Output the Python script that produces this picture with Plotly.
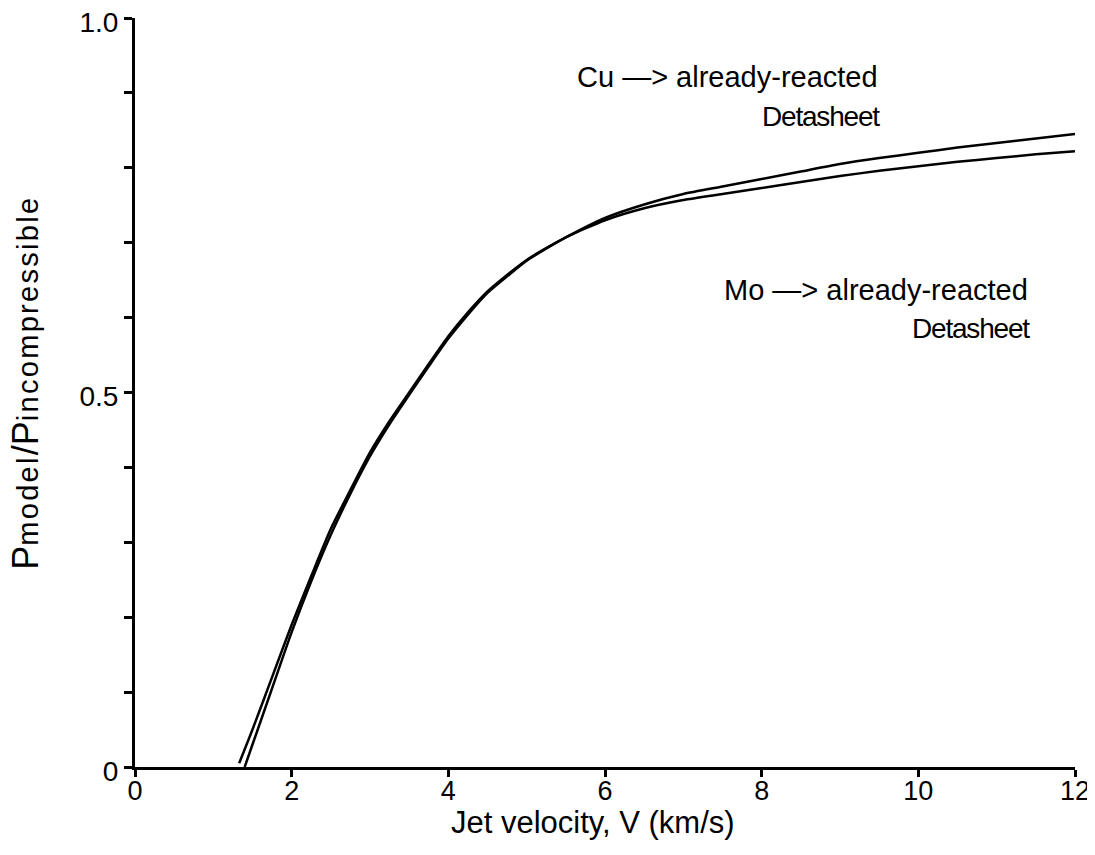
import plotly.graph_objects as go

# Jet velocity (km/s) and pressure ratio for each curve
cu_v = [1.33, 1.5, 1.75, 2.0, 2.25, 2.5, 2.75, 3.0, 3.25, 3.5, 3.75, 4.0, 4.25, 4.5, 4.75,
        5.0, 5.5, 6.0, 6.5, 7.0, 7.5, 8.0, 8.5, 9.0, 9.5, 10.0, 10.5, 11.0, 11.5, 12.0]
cu_p = [0.005, 0.05, 0.12, 0.19, 0.255, 0.318, 0.37, 0.42, 0.462, 0.5, 0.538, 0.575, 0.607,
        0.635, 0.657, 0.677, 0.707, 0.733, 0.751, 0.765, 0.775, 0.785, 0.795, 0.805, 0.813,
        0.82, 0.827, 0.833, 0.839, 0.845]
mo_v = [1.40, 1.5, 1.75, 2.0, 2.25, 2.5, 2.75, 3.0, 3.25, 3.5, 3.75, 4.0, 4.25, 4.5, 4.75,
        5.0, 5.5, 6.0, 6.5, 7.0, 7.5, 8.0, 8.5, 9.0, 9.5, 10.0, 10.5, 11.0, 11.5, 12.0]
mo_p = [0.0, 0.03, 0.105, 0.18, 0.248, 0.31, 0.365, 0.415, 0.458, 0.497, 0.535, 0.572, 0.604,
        0.633, 0.655, 0.676, 0.707, 0.73, 0.746, 0.757, 0.765, 0.773, 0.781, 0.789, 0.796,
        0.802, 0.808, 0.813, 0.818, 0.822]

x_ticks = [0, 2, 4, 6, 8, 10, 12]
y_ticks = [0, 0.1, 0.2, 0.3, 0.4, 0.5, 0.6, 0.7, 0.8, 0.9, 1.0]
y_labels = ["0", "", "", "", "", "0.5", "", "", "", "", "1.0"]

FONT = "Liberation Sans, Arial, Helvetica, sans-serif"

fig = go.Figure()
fig.add_trace(go.Scatter(x=cu_v, y=cu_p, mode="lines", name="Cu",
                         line=dict(color="black", width=2.5, shape="spline", smoothing=0.6)))
fig.add_trace(go.Scatter(x=mo_v, y=mo_p, mode="lines", name="Mo",
                         line=dict(color="black", width=2.5, shape="spline", smoothing=0.6)))

ann_font = dict(family=FONT, size=29, color="black")
det_font = dict(family=FONT, size=28, color="black")
DET = "<span style='letter-spacing:-1.2px'>Detasheet</span>"
fig.add_annotation(x=9.51, y=0.921, text="Cu —> already-reacted", showarrow=False,
                   xanchor="right", yanchor="middle", font=ann_font)
fig.add_annotation(x=9.53, y=0.868, text=DET, showarrow=False,
                   xanchor="right", yanchor="middle", font=det_font)
fig.add_annotation(x=11.43, y=0.637, text="Mo —> already-reacted", showarrow=False,
                   xanchor="right", yanchor="middle", font=ann_font)
fig.add_annotation(x=11.45, y=0.586, text=DET, showarrow=False,
                   xanchor="right", yanchor="middle", font=det_font)

# axis titles
fig.add_annotation(xref="paper", yref="paper", x=0.487, y=0, yshift=-55,
                   text="Jet velocity, V (km/s)", showarrow=False,
                   xanchor="center", yanchor="middle",
                   font=dict(family=FONT, size=31, color="black"))
SUB = "font-size:29px;letter-spacing:2.3px"
fig.add_annotation(xref="paper", yref="paper", x=0, xshift=-109, y=0.513,
                   text=f"P<span style='{SUB}'>model</span>/P<span style='{SUB}'>incompressible</span>",
                   textangle=-90, showarrow=False, xanchor="center", yanchor="middle",
                   font=dict(family=FONT, size=36, color="black"))

fig.update_layout(
    template="none",
    width=1087, height=839,
    margin=dict(l=127, r=20, t=10, b=80, autoexpand=False),
    paper_bgcolor="white", plot_bgcolor="white",
    showlegend=False,
    font=dict(family=FONT, color="black"),
    xaxis=dict(range=[0, 12], tickmode="array", tickvals=x_ticks,
               ticktext=[str(v) for v in x_ticks],
               ticks="outside", ticklen=7, tickwidth=2.5, tickcolor="black",
               showline=True, linecolor="black", linewidth=3, showgrid=False, zeroline=False,
               automargin=False, ticklabeloverflow="allow", ticklabelstandoff=-9,
               tickfont=dict(family=FONT, size=27)),
    yaxis=dict(range=[0, 1.0], tickmode="array", tickvals=y_ticks, ticktext=y_labels,
               ticks="outside", ticklen=8, tickwidth=2.5, tickcolor="black",
               showline=True, linecolor="black", linewidth=3, showgrid=False, zeroline=False,
               automargin=False, ticklabeloverflow="allow", ticklabelshift=4,
               tickfont=dict(family=FONT, size=28)),
)

fig.write_html("out.html")
